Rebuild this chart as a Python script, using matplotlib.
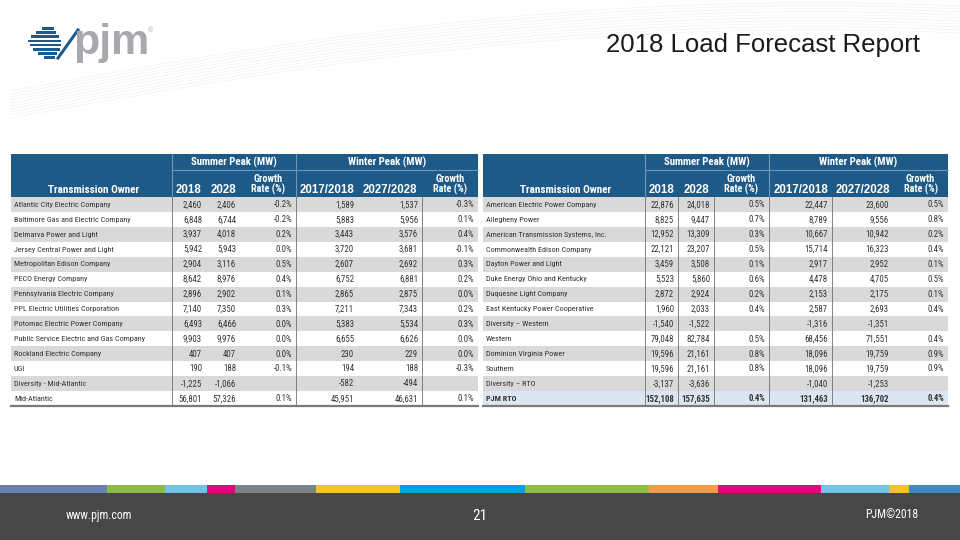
import matplotlib
matplotlib.use("Agg")
import matplotlib.pyplot as plt
from matplotlib import font_manager
from matplotlib.font_manager import FontProperties
from matplotlib.patches import Rectangle
import numpy as np

# ---------------- data ----------------
title = "2018 Load Forecast Report"
col_headers = ["Transmission Owner", "2018", "2028", "Growth\nRate (%)", "2017/2018", "2027/2028", "Growth\nRate (%)"]
group_headers = ["Summer Peak (MW)", "Winter Peak (MW)"]

left_owners = ["Atlantic City Electric Company", "Baltimore Gas and Electric Company",
               "Delmarva Power and Light", "Jersey Central Power and Light",
               "Metropolitan Edison Company", "PECO Energy Company",
               "Pennsylvania Electric Company", "PPL Electric Utilities Corporation",
               "Potomac Electric Power Company", "Public Service Electric and Gas Company",
               "Rockland Electric Company", "UGI", "Diversity - Mid-Atlantic", "Mid-Atlantic"]
left_sum2018 = [2460, 6848, 3937, 5942, 2904, 8642, 2896, 7140, 6493, 9903, 407, 190, -1225, 56801]
left_sum2028 = [2406, 6744, 4018, 5943, 3116, 8976, 2902, 7350, 6466, 9976, 407, 188, -1066, 57326]
left_sum_gr = [-0.2, -0.2, 0.2, 0.0, 0.5, 0.4, 0.1, 0.3, 0.0, 0.0, 0.0, -0.1, None, 0.1]
left_win1718 = [1589, 5883, 3443, 3720, 2607, 6752, 2865, 7211, 5383, 6655, 230, 194, -582, 45951]
left_win2728 = [1537, 5956, 3576, 3681, 2692, 6881, 2875, 7343, 5534, 6626, 229, 188, -494, 46631]
left_win_gr = [-0.3, 0.1, 0.4, -0.1, 0.3, 0.2, 0.0, 0.2, 0.3, 0.0, 0.0, -0.3, None, 0.1]

right_owners = ["American Electric Power Company", "Allegheny Power",
                "American Transmission Systems, Inc.", "Commonwealth Edison Company",
                "Dayton Power and Light", "Duke Energy Ohio and Kentucky",
                "Duquesne Light Company", "East Kentucky Power Cooperative",
                "Diversity \u2013 Western", "Western", "Dominion Virginia Power",
                "Southern", "Diversity \u2013 RTO", "PJM RTO"]
right_sum2018 = [22876, 8825, 12952, 22121, 3459, 5523, 2872, 1960, -1540, 79048, 19596, 19596, -3137, 152108]
right_sum2028 = [24018, 9447, 13309, 23207, 3508, 5860, 2924, 2033, -1522, 82784, 21161, 21161, -3636, 157635]
right_sum_gr = [0.5, 0.7, 0.3, 0.5, 0.1, 0.6, 0.2, 0.4, None, 0.5, 0.8, 0.8, None, 0.4]
right_win1718 = [22447, 8789, 10667, 15714, 2917, 4478, 2153, 2587, -1316, 68456, 18096, 18096, -1040, 131463]
right_win2728 = [23600, 9556, 10942, 16323, 2952, 4705, 2175, 2693, -1351, 71551, 19759, 19759, -1253, 136702]
right_win_gr = [0.5, 0.8, 0.2, 0.4, 0.1, 0.5, 0.1, 0.4, None, 0.4, 0.9, 0.9, None, 0.4]

footer_left = "www.pjm.com"
footer_mid = "21"
footer_right = "PJM\u00a92018"
strip_colors = ["#6b80b2", "#8cba48", "#70c2e6", "#e2037d", "#7b8389", "#f5c130",
                "#00a1e1", "#8dbc48", "#ef9b4b", "#e5037e", "#6fc4e7", "#f5c130", "#3e88c6"]
strip_edges = [0, 107, 165, 207, 235, 316, 400, 525, 649, 718, 821, 889, 909, 960]

# ---------------- fonts ----------------
sans = "Liberation Sans"


def find_condensed(bold):
    cands = []
    for f in font_manager.fontManager.ttflist:
        nm = f.name
        st = str(f.stretch)
        is_cond = ("Narrow" in nm or "Condensed" in nm or "Condensed" in f.fname
                   or st in ("condensed", "semi-condensed", "extra-condensed", "ultra-condensed"))
        if not is_cond:
            continue
        if f.style != "normal":
            continue
        w = f.weight if isinstance(f.weight, int) else 400
        pen = 1 if ("Semi" in f.fname or "Extra" in f.fname or "Ultra" in f.fname) else 0
        pref = 0 if "Liberation" in nm else (1 if "Roboto" in nm else (2 if "Noto Sans" in nm else 3))
        target = 700 if bold else 400
        cands.append((pref, pen, abs(w - target), f.fname))
    if not cands:
        return None
    cands.sort()
    return cands[0][3]


fn_reg = find_condensed(False)
fn_bold = find_condensed(True)
if fn_reg:
    fp_reg = FontProperties(fname=fn_reg)
    cond = True
else:
    fp_reg = FontProperties(family=sans)
    cond = False
fp_bold = FontProperties(fname=fn_bold) if fn_bold else FontProperties(family=sans, weight="bold")

fig = plt.figure(figsize=(9.6, 5.4), dpi=100)
ax = fig.add_axes([0, 0, 1, 1])
ax.set_xlim(0, 960)
ax.set_ylim(540, 0)
ax.axis("off")

# ---------------- background decoration ----------------
t = np.linspace(0, 1, 200)
for k in range(10):
    xs = 10 + t * 950
    ys = 110 - 95 * np.sin(t * np.pi * 0.55 + 0.2) + k * 3 - 15 * t
    ax.plot(xs, ys, color="#ececec", lw=0.5, alpha=0.7, zorder=0)

# logo
logo_blue = "#1b5a8c"
for i, (x0, w) in enumerate([(42, 12), (36, 20), (31, 28), (28, 33), (30, 31), (33, 27), (38, 19), (44, 11)]):
    ax.add_patch(Rectangle((x0, 27 + i * 4.2), w, 2.6, facecolor=logo_blue, edgecolor="none", zorder=2))
ax.plot([58, 78], [58, 30], color=logo_blue, lw=2.2, zorder=2)
ax.text(73, 43, "pjm", fontsize=31, fontweight="bold", color="#a7a9ac", family=sans,
        va="center", ha="left", zorder=3)
ax.text(148, 31, "\u00ae", fontsize=5, color="#a7a9ac", family=sans, va="center")

ax.text(920, 45, title, fontsize=18.5, color="#1a1a1a", family=sans, ha="right", va="center")

# ---------------- tables ----------------
header_blue = "#1d5a88"
gray_row = "#d9d9d9"
text_col = "#333333"
name_size = 5.9 if cond else 4.8
num_size = 6.3 if cond else 5.2


def fmt_num(v):
    return f"{v:,}"


def fmt_gr(v):
    return "" if v is None else f"{v:.1f}%"


def draw_table(x_edges, owners, s18, s28, sgr, w18, w28, wgr, last_fill, inner_lines):
    top, mid, hdr_bot, bot = 154, 170, 197, 406
    n = len(owners)
    rh = (bot - hdr_bot) / n
    x0, x1 = x_edges[0], x_edges[-1]
    ax.add_patch(Rectangle((x0, top), x1 - x0, hdr_bot - top, facecolor=header_blue, edgecolor="none", zorder=1))
    for xe in (x_edges[1], x_edges[4]):
        ax.plot([xe, xe], [top, hdr_bot], color="#7096b5", lw=0.8, zorder=2)
    ax.plot([x_edges[1], x1], [mid, mid], color="#7096b5", lw=0.8, zorder=2)
    for g, (a, b) in enumerate([(x_edges[1], x_edges[4]), (x_edges[4], x1)]):
        ax.text((a + b) / 2, (top + mid) / 2 + 0.5, group_headers[g], color="white",
                fontproperties=fp_bold, fontsize=7.8 if cond else 7.0, ha="center", va="center", zorder=3)
    for j, h in enumerate(col_headers):
        cx = (x_edges[j] + x_edges[j + 1]) / 2
        if j == 0:
            cx = cx + 2
        if "\n" in h:
            ax.text(cx, (mid + hdr_bot) / 2 + 1, h, color="white", fontproperties=fp_bold,
                    fontsize=7.4 if cond else 6.6, ha="center", va="center", linespacing=1.05, zorder=3)
        elif j == 0:
            ax.text(cx, hdr_bot - 7, h, color="white", fontproperties=fp_bold,
                    fontsize=8.0 if cond else 7.2, ha="center", va="center", zorder=3)
        else:
            ax.text(cx, hdr_bot - 7, h, color="white", family=sans, fontweight="bold",
                    fontsize=8.3, ha="center", va="center", zorder=3)
    for i in range(n):
        y = hdr_bot + i * rh
        fill = gray_row if i % 2 == 0 else "white"
        if i == n - 1 and last_fill:
            fill = last_fill
        ax.add_patch(Rectangle((x0, y), x1 - x0, rh, facecolor=fill, edgecolor="none", zorder=1))
        bold = (i == n - 1 and last_fill is not None)
        fp = fp_bold if bold else fp_reg
        yc = y + rh / 2 + 0.3
        ax.text(x0 + 3, yc, owners[i], fontproperties=fp, fontsize=name_size, color=text_col,
                ha="left", va="center", zorder=3)
        vals = [fmt_num(s18[i]), fmt_num(s28[i]), fmt_gr(sgr[i]),
                fmt_num(w18[i]), fmt_num(w28[i]), fmt_gr(wgr[i])]
        for j, v in enumerate(vals):
            ax.text(x_edges[j + 2] - 4, yc, v, fontproperties=fp, fontsize=num_size, color=text_col,
                    ha="right", va="center", zorder=3)
    for xe in inner_lines:
        ax.plot([xe, xe], [hdr_bot, bot], color="#707070", lw=0.6, zorder=2)
    ax.plot([x0, x1], [bot, bot], color="#7a7a7a", lw=1.6, zorder=2)


left_edges = [11, 172, 206, 240, 296, 358, 422, 478]
right_edges = [483, 645, 678, 714, 769, 832, 893, 948]
draw_table(left_edges, left_owners, left_sum2018, left_sum2028, left_sum_gr,
           left_win1718, left_win2728, left_win_gr, None, [172, 296, 422])
draw_table(right_edges, right_owners, right_sum2018, right_sum2028, right_sum_gr,
           right_win1718, right_win2728, right_win_gr, "#dce6f2", [645, 678, 714, 769, 832])

# ---------------- footer ----------------
for c, a, b in zip(strip_colors, strip_edges[:-1], strip_edges[1:]):
    ax.add_patch(Rectangle((a, 485), b - a, 8, facecolor=c, edgecolor="none", zorder=1))
ax.add_patch(Rectangle((0, 493), 960, 47, facecolor="#474747", edgecolor="none", zorder=1))
ax.text(66, 515, footer_left, fontproperties=fp_reg, fontsize=8.5 if cond else 7.5, color="white",
        ha="left", va="center", zorder=3)
ax.text(480, 516, footer_mid, fontproperties=fp_reg, fontsize=11 if cond else 10, color="white",
        ha="center", va="center", zorder=3)
ax.text(918, 515, footer_right, fontproperties=fp_reg, fontsize=8.5 if cond else 7.5, color="white",
        ha="right", va="center", zorder=3)

fig.savefig("out.png", dpi=100)
